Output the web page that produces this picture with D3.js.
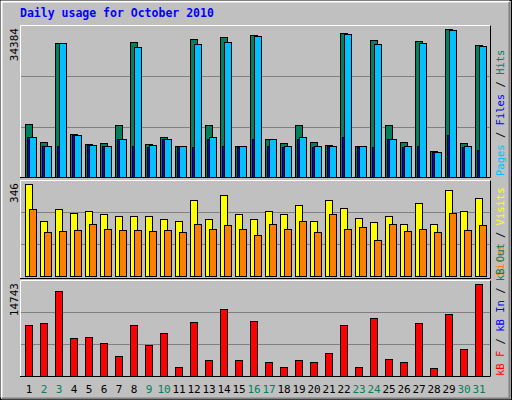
<!DOCTYPE html>
<html><head><meta charset="utf-8">
<script src="https://cdn.jsdelivr.net/npm/d3@7"></script>
<style>body{margin:0;background:#fff}svg{display:block}</style>
</head><body><svg id="c" width="512" height="400"></svg>
<script>
const days = d3.range(1, 32);
const weekendDays = [2,3,9,10,16,17,23,24,30,31];
const hits  = [11956,8072,30460,9900,7615,7843,11727,30688,7615,9062,7158,31374,11727,31831,7158,32364,8757,7843,11727,8072,7387,32745,7158,31145,11727,8072,30917,6016,33658,7843,30003];
const files = [9062,7006,30460,9671,7387,7006,8757,29546,7387,8757,7158,30232,9062,30688,7006,32059,8757,7006,9062,7006,7158,32516,7006,30232,8757,7006,30460,5787,33430,7006,29775];
const pages = [9062,7006,7006,9671,7387,7006,8757,7006,6854,8757,7158,6777,8757,7006,6854,8757,7006,6854,8757,6854,7006,9062,6854,6777,8757,6854,7006,5787,9671,6854,6092];
const visits = [332,201,241,230,237,223,216,216,219,205,201,274,205,295,223,205,237,223,259,198,274,245,209,194,216,190,263,190,313,234,281];
const sites  = [241,158,162,165,190,172,165,165,162,165,158,190,172,183,169,147,187,169,198,158,223,172,176,129,187,162,169,158,227,165,183];
const kbF = [7808,8116,13048,5805,5959,5034,3031,7808,4726,6575,1336,8271,2414,10274,2414,8425,2106,1336,2414,2106,3493,7808,1336,8887,2569,2106,8116,1182,9503,4110,14127];
const kbIn = days.map(()=>60);
const maxHits = 34384, maxVisits = 346, maxKB = 14743;

const svg = d3.select("#c");
const FONT = "DejaVu Sans Mono, monospace";
svg.append("rect").attr("width",512).attr("height",400).attr("fill","#C0C0C0");
// outer frame
svg.append("rect").attr("x",0.5).attr("y",0.5).attr("width",511).attr("height",399).attr("fill","none").attr("stroke","#000");
svg.append("path").attr("d","M1.5,397.5V1.5H509.5").attr("fill","none").attr("stroke","#fff").attr("stroke-width",2);
svg.append("path").attr("d","M509.5,2V398.5H2").attr("fill","none").attr("stroke","#808080").attr("stroke-width",2);

svg.append("text").attr("x",20).attr("y",17).attr("font-family",FONT).attr("font-weight","bold")
  .attr("font-size",11.5).attr("fill","#0000FF").text("Daily usage for October 2010");

const x = d3.scaleLinear().domain([1,31]).range([25,475]);
const panels = [
  {top:25, bottom:178, base:177, y: d3.scaleLinear().domain([0,maxHits]).range([177,26]), label:"34384"},
  {top:180, bottom:279, base:276, y: d3.scaleLinear().domain([0,maxVisits]).range([276,180.5]), label:"346"},
  {top:280, bottom:377, base:376, y: d3.scaleLinear().domain([0,maxKB]).range([376,280.5]), label:"14743"}
];
panels.forEach(p=>{
  svg.append("path").attr("d",`M20.5,${p.bottom}V${p.top+0.5}H490.5`).attr("fill","none").attr("stroke","#fff");
  svg.append("path").attr("d",`M490.5,${p.top+0.5}V${p.bottom-0.5}H20`).attr("fill","none").attr("stroke","#000");
  [1/3,2/3].forEach(f=>{
    const v = p.y.domain()[1]*f;
    svg.append("line").attr("x1",21).attr("x2",490).attr("y1",Math.round(p.y(v))+0.5).attr("y2",Math.round(p.y(v))+0.5).attr("stroke","#808080");
  });
  const ty = p.top+3;
  svg.append("text").attr("transform",`translate(18,${ty}) rotate(-90)`).attr("text-anchor","end")
    .attr("font-family",FONT).attr("font-size",11).attr("fill","#000").text(p.label);
});

function bars(data, panel, off, w, color){
  const p = panels[panel];
  svg.append("g").selectAll("rect").data(data).join("rect")
    .attr("x",(d,i)=>x(days[i])+off+0.5).attr("width",w)
    .attr("y",d=>Math.round(p.y(d))+0.5).attr("height",d=>p.base-Math.round(p.y(d)))
    .attr("fill",color).attr("stroke","#000");
}
bars(hits,0,0,7,"#00805C");
bars(pages,0,2,7,"#0000FF");
bars(files,0,4,7,"#00C0FF");
bars(visits,1,0,7,"#FFFF00");
bars(sites,1,4,7,"#FF8000");
bars(kbF,2,0,7,"#FF0000");
bars(kbIn,2,4,7,"#0000FF");

svg.append("g").selectAll("text").data(days).join("text")
  .attr("x",d=>x(d)+4).attr("y",393).attr("text-anchor","middle")
  .attr("font-family",FONT).attr("font-size",11)
  .attr("fill",d=>weekendDays.includes(d)?"#00805C":"#000").text(d=>d);

function rightLabel(yBottom, parts){
  const t = svg.append("text").attr("transform",`translate(504,${yBottom}) rotate(-90)`)
    .attr("font-family",FONT).attr("font-size",10.5);
  parts.forEach(([s,c])=>t.append("tspan").attr("fill",c).text(s));
}
rightLabel(176,[["Pages","#00C0FF"],[" / ","#000"],["Files","#0000FF"],[" / ","#000"],["Hits","#00805C"]]);
rightLabel(276,[["Sites","#FF8000"],[" / ","#000"],["Visits","#FFFF00"]]);
rightLabel(376,[["kB F","#FF0000"],[" / ","#000"],["kB In","#0000FF"],[" / ","#000"],["kB Out","#00805C"]]);
</script></body></html>
